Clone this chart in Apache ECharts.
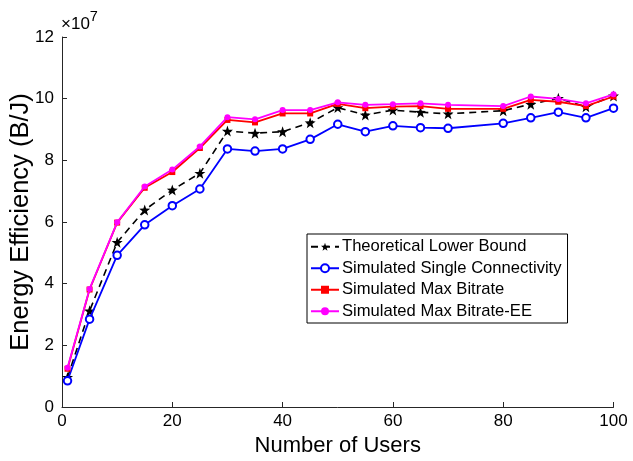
<!DOCTYPE html>
<html>
<head>
<meta charset="utf-8">
<script src="https://cdn.jsdelivr.net/npm/echarts@6/dist/echarts.min.js"></script>
<style>
  html, body { margin: 0; padding: 0; background: #fff; }
  #chart { width: 633px; height: 461px; }
</style>
</head>
<body>
<div id="chart"></div>
<script>
// Number of users on the x axis
const users = [1, 5, 10, 15, 20, 25, 30, 35, 40, 45, 50, 55, 60, 65, 70, 80, 85, 90, 95, 100];

// Energy efficiency values, in units of 1e7 B/J
const lowerBound = [0.96, 3.12, 5.34, 6.39, 7.04, 7.58, 8.95, 8.88, 8.93, 9.22, 9.71, 9.47, 9.63, 9.56, 9.51, 9.61, 9.82, 10.01, 9.74, 10.09];
const singleConn = [0.85, 2.85, 4.92, 5.91, 6.53, 7.07, 8.37, 8.30, 8.37, 8.68, 9.17, 8.93, 9.12, 9.06, 9.04, 9.20, 9.38, 9.56, 9.38, 9.69];
const maxBitrate = [1.24, 3.81, 5.98, 7.11, 7.62, 8.40, 9.31, 9.23, 9.52, 9.52, 9.83, 9.69, 9.74, 9.76, 9.67, 9.67, 9.96, 9.90, 9.76, 10.07];
const maxBitrateEE = [1.27, 3.83, 5.99, 7.15, 7.70, 8.45, 9.40, 9.33, 9.63, 9.63, 9.88, 9.80, 9.82, 9.85, 9.80, 9.76, 10.07, 9.99, 9.85, 10.14];

const seriesNames = ['Theoretical Lower Bound', 'Simulated Single Connectivity', 'Simulated Max Bitrate', 'Simulated Max Bitrate-EE'];
const xTicks = [0, 20, 40, 60, 80, 100];
const yTicks = [0, 2, 4, 6, 8, 10, 12];

const FONT = '"Liberation Sans", Arial, Helvetica, sans-serif';
const STAR = 'path://M0,-10 L2.35,-3.24 L9.51,-3.09 L3.8,1.24 L5.88,8.09 L0,4 L-5.88,8.09 L-3.8,1.24 L-9.51,-3.09 L-2.35,-3.24 Z';

const pairs = vals => users.map((u, i) => [u, vals[i]]);

const chart = echarts.init(document.getElementById('chart'), null, { renderer: 'canvas' });
chart.setOption({
  animation: false,
  backgroundColor: '#fff',
  textStyle: { fontFamily: FONT },
  grid: { left: 62, right: 19.5, top: 37, bottom: 54, containLabel: false, outerBoundsMode: 'none' },
  xAxis: {
    type: 'value',
    min: xTicks[0], max: xTicks[xTicks.length - 1], interval: 20,
    name: 'Number of Users', nameLocation: 'middle', nameGap: 26,
    nameTextStyle: { fontSize: 22, color: '#000', fontFamily: FONT },
    axisLine: { lineStyle: { color: '#262626', width: 1 } },
    axisTick: { inside: true, length: 5, lineStyle: { color: '#262626' } },
    axisLabel: { fontSize: 17, color: '#000', margin: 6, fontFamily: FONT },
    splitLine: { show: false }
  },
  yAxis: {
    type: 'value',
    min: yTicks[0], max: yTicks[yTicks.length - 1], interval: 2,
    name: 'Energy Efficiency (B/J)', nameLocation: 'middle', nameGap: 28,
    nameMoveOverlap: false,
    nameTextStyle: { fontSize: 25.5, color: '#000', fontFamily: FONT },
    axisLine: { show: true, lineStyle: { color: '#262626', width: 1 } },
    axisTick: { show: true, inside: true, length: 5, lineStyle: { color: '#262626' } },
    axisLabel: { fontSize: 17, color: '#000', margin: 8, fontFamily: FONT },
    splitLine: { show: false }
  },
  legend: {
    orient: 'vertical',
    left: 307, top: 234,
    backgroundColor: '#fff',
    borderColor: '#000', borderWidth: 1,
    padding: [2, 6, 1, 3],
    itemWidth: 28, itemHeight: 10, itemGap: 0,
    textStyle: { fontSize: 16.6, color: '#000', lineHeight: 21.5, fontFamily: FONT, padding: [0, 0, 0, -2] },
    data: seriesNames
  },
  graphic: [{
    type: 'text', left: 61, top: 9,
    style: {
      text: '{a|×10}{b|7}',
      rich: {
        a: { fontSize: 17, fontFamily: FONT, fill: '#000', verticalAlign: 'bottom', lineHeight: 24 },
        b: { fontSize: 14.5, fontFamily: FONT, fill: '#000', verticalAlign: 'top', lineHeight: 24 }
      }
    }
  }],
  series: [
    {
      name: seriesNames[0], type: 'line', data: pairs(lowerBound),
      symbol: STAR, symbolSize: 11,
      lineStyle: { color: '#000', width: 1.6, type: [7, 5] },
      itemStyle: { color: '#000' }, z: 2
    },
    {
      name: seriesNames[1], type: 'line', data: pairs(singleConn),
      symbol: 'emptyCircle', symbolSize: 7.5,
      lineStyle: { color: '#0000ff', width: 1.8 },
      itemStyle: { color: '#0000ff', borderColor: '#0000ff', borderWidth: 1.5 }, z: 3
    },
    {
      name: seriesNames[2], type: 'line', data: pairs(maxBitrate),
      symbol: 'rect', symbolSize: 6,
      lineStyle: { color: '#ff0000', width: 1.8 },
      itemStyle: { color: '#ff0000' }, z: 4
    },
    {
      name: seriesNames[3], type: 'line', data: pairs(maxBitrateEE),
      symbol: 'circle', symbolSize: 6,
      lineStyle: { color: '#ff00ff', width: 1.8 },
      itemStyle: { color: '#ff00ff' }, z: 5
    }
  ]
});
</script>
</body>
</html>
